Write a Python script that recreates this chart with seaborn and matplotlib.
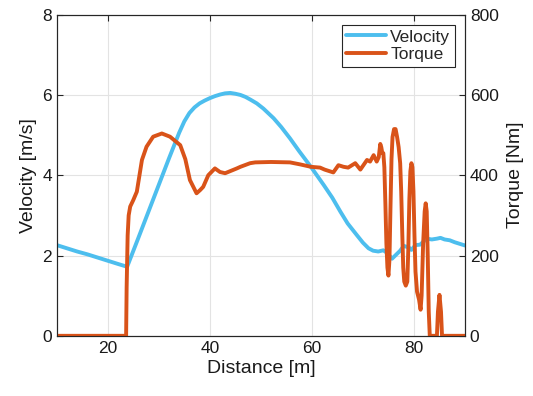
import matplotlib
matplotlib.use('Agg')
import matplotlib.pyplot as plt
import pandas as pd
import seaborn as sns

# velocity profile [m/s] vs distance [m]
vel_dist = [10, 12, 14, 16, 18, 20, 22, 23.8, 26, 28, 30, 32, 34, 35, 36, 37, 38, 39,
            40, 41, 42, 43, 44, 45, 46, 47, 48, 49.2, 50.5, 52.5, 54, 55.7, 57.5, 59.8,
            62.3, 64, 65.6, 67, 68.8, 70, 71.1, 72, 73, 74, 74.8, 75.7, 76.5, 77.3, 78,
            79, 79.5, 80.3, 81.2, 82.5, 83.5, 84.5, 85.2, 86, 87, 88, 89, 90]
velocity = [2.26, 2.18, 2.10, 2.03, 1.95, 1.87, 1.79, 1.72, 2.44, 3.10, 3.76, 4.42, 5.06,
            5.34, 5.55, 5.69, 5.79, 5.86, 5.92, 5.97, 6.01, 6.04, 6.05, 6.03, 6.00, 5.95,
            5.88, 5.79, 5.66, 5.42, 5.20, 4.92, 4.60, 4.21, 3.76, 3.44, 3.09, 2.80, 2.51,
            2.32, 2.18, 2.12, 2.10, 2.13, 2.06, 1.92, 2.02, 2.12, 2.24, 2.20, 2.14, 2.26,
            2.27, 2.42, 2.40, 2.42, 2.44, 2.40, 2.38, 2.33, 2.29, 2.25]

# motor torque [Nm] vs distance [m]
trq_dist = [10, 23.6, 23.7, 23.9, 24.1, 24.4, 25, 25.7, 26.7, 27.6, 28.9, 30.6, 32.2,
            34.2, 35.2, 36.1, 37.4, 38.1, 38.7, 39.7, 41, 42, 43, 45.3, 46, 47.9, 48.9,
            52, 55.7, 57.7, 59.8, 61.6, 62.5, 64.2, 65.2, 66.2, 67.1, 68.5, 69.5, 70.8,
            71.4, 72.1, 72.7, 73.1, 73.4, 73.6, 73.8, 74.0, 74.2, 74.4, 74.6, 74.8, 75.0,
            75.2, 75.4, 75.6, 75.8, 76.1, 76.4, 76.7, 77.0, 77.3, 77.5, 77.7, 77.9, 78.1,
            78.4, 78.7, 78.9, 79.1, 79.3, 79.5, 79.7, 79.9, 80.1, 80.3, 80.6, 81.0, 81.3,
            81.5, 81.8, 82.1, 82.3, 82.5, 82.7, 82.9, 83.1, 84.5, 84.7, 85.0, 85.3, 85.5, 90]
torque = [0, 0, 120, 250, 300, 322, 338, 359, 438, 471, 496, 504, 496,
          475, 440, 388, 355, 363, 371, 400, 417, 408, 405, 417, 421, 430, 432,
          433, 432, 427, 421, 419, 414, 407, 425, 421, 419, 430, 414, 438,
          434, 450, 434, 445, 478, 470, 455, 455, 420, 330, 230, 170, 150,
          190, 320, 440, 495, 515, 515, 495, 470, 430, 360, 260, 170, 135,
          125, 135, 220, 340, 410, 430, 420, 360, 250, 160, 110, 90, 65,
          100, 230, 310, 330, 310, 200, 60, 0, 0, 60, 102, 60, 0, 0]

vel_df = pd.DataFrame({'Distance': vel_dist, 'Velocity': velocity})
trq_df = pd.DataFrame({'Distance': trq_dist, 'Torque': torque})

sns.set_style('white')
plt.rcParams['font.family'] = ['Liberation Sans', 'DejaVu Sans']

blue = '#4DBEEE'
orange = '#D95319'
axcol = '#262626'

fig = plt.figure(figsize=(5.33, 3.96), dpi=100)
ax = fig.add_axes([0.1064, 0.152, 0.766, 0.811])
ax2 = ax.twinx()

sns.lineplot(data=vel_df, x='Distance', y='Velocity', ax=ax, color=blue, lw=2.8,
             label='Velocity', legend=False, sort=False,
             solid_joinstyle='round', solid_capstyle='round')
sns.lineplot(data=trq_df, x='Distance', y='Torque', ax=ax2, color=orange, lw=2.8,
             label='Torque', legend=False, sort=False,
             solid_joinstyle='round', solid_capstyle='round')

ax.set_xlim(10, 90)
ax.set_ylim(0, 8)
ax2.set_ylim(0, 800)
ax.set_xticks([20, 40, 60, 80])
ax.set_yticks([0, 2, 4, 6, 8])
ax2.set_yticks([0, 200, 400, 600, 800])

ax.grid(True, color='#e3e3e3', lw=0.8)
ax.set_axisbelow(True)
for a in (ax, ax2):
    for s in a.spines.values():
        s.set_color(axcol)
        s.set_linewidth(0.8)
    a.tick_params(direction='in', length=4, width=0.8, colors=axcol,
                  labelsize=12.5, labelcolor='#1a1a1a', top=False)
ax.tick_params(axis='x', top=True)

ax.set_xlabel('Distance [m]', fontsize=14, color='#1a1a1a', labelpad=3)
ax.set_ylabel('Velocity [m/s]', fontsize=14, color='#1a1a1a', labelpad=4)
ax2.set_ylabel('Torque [Nm]', fontsize=14, color='#1a1a1a', labelpad=6)

h1, l1 = ax.get_legend_handles_labels()
h2, l2 = ax2.get_legend_handles_labels()
leg = ax2.legend(h1 + h2, l1 + l2, loc='upper right', fontsize=12.5, frameon=True,
                 fancybox=False, edgecolor='#262626', framealpha=1,
                 handlelength=2.3, handletextpad=0.25, borderpad=0.25,
                 labelspacing=0.15, borderaxespad=0.6)
leg.get_frame().set_linewidth(0.8)

fig.savefig('out.png', dpi=100)
